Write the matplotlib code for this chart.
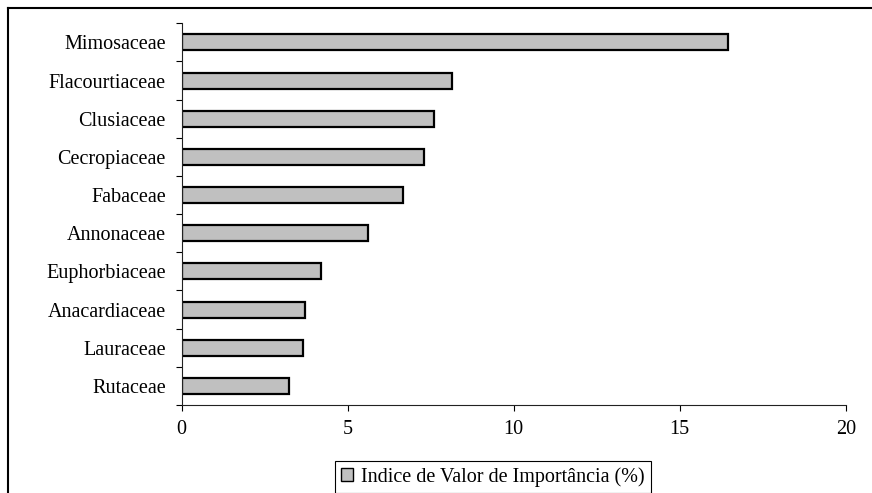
import numpy as np
import matplotlib
matplotlib.use("Agg")
from matplotlib import pyplot as plt
from matplotlib.lines import Line2D
from matplotlib.patches import Patch

# Data
families = ["Mimosaceae", "Flacourtiaceae", "Clusiaceae", "Cecropiaceae", "Fabaceae",
            "Annonaceae", "Euphorbiaceae", "Anacardiaceae", "Lauraceae", "Rutaceae"]
ivi = [16.45, 8.13, 7.59, 7.29, 6.67, 5.62, 4.19, 3.70, 3.65, 3.22]
x_ticks = [0, 5, 10, 15, 20]
legend_label = "Indice de Valor de Importância (%)"

plt.rcParams['font.family'] = ['Liberation Serif', 'DejaVu Serif']
fs = 14.5

fig = plt.figure(figsize=(8.72, 4.93), dpi=100)
ax = fig.add_axes([0.2084, 0.1785, 0.7615, 0.7742])

# Bars, top category first
y = np.arange(len(families))[::-1]
ax.barh(y, ivi, height=0.42, color="#c0c0c0", edgecolor="black", linewidth=1.6)

ax.set_xlim(0, 20)
ax.set_ylim(-0.5, len(families) - 0.5)
ax.set_xticks(x_ticks)
ax.set_xticklabels([str(t) for t in x_ticks], fontsize=fs)
ax.set_yticks(y)
ax.set_yticklabels(families, fontsize=fs)
ax.set_yticks(np.arange(-0.5, len(families)), minor=True)

ax.tick_params(axis="y", which="major", length=0, pad=11.5)
ax.tick_params(axis="y", which="minor", length=4.5, width=0.8, direction="out")
ax.tick_params(axis="x", which="major", length=4, width=0.8, direction="out", pad=7)

for s in ["top", "right"]:
    ax.spines[s].set_visible(False)
for s in ["left", "bottom"]:
    ax.spines[s].set_linewidth(0.8)
    ax.spines[s].set_color("#222222")

# Legend box under the chart
handle = Patch(facecolor="#c0c0c0", edgecolor="black", linewidth=1.0)
leg = fig.legend([handle], [legend_label], loc="center",
                 bbox_to_anchor=(0.565, 0.033), fontsize=fs,
                 fancybox=False, framealpha=1, edgecolor="black",
                 handlelength=0.6, handleheight=0.6, handletextpad=0.4,
                 borderpad=0.3)
leg.get_frame().set_linewidth(0.8)

# Outer chart border (only left and top edges visible)
fig.add_artist(Line2D([8 / 872, 8 / 872], [0, 1 - 8 / 493], color="black", linewidth=1.5))
fig.add_artist(Line2D([8 / 872, 1], [1 - 8 / 493, 1 - 8 / 493], color="black", linewidth=1.5))

plt.savefig("out.png", dpi=100)
plt.close()
